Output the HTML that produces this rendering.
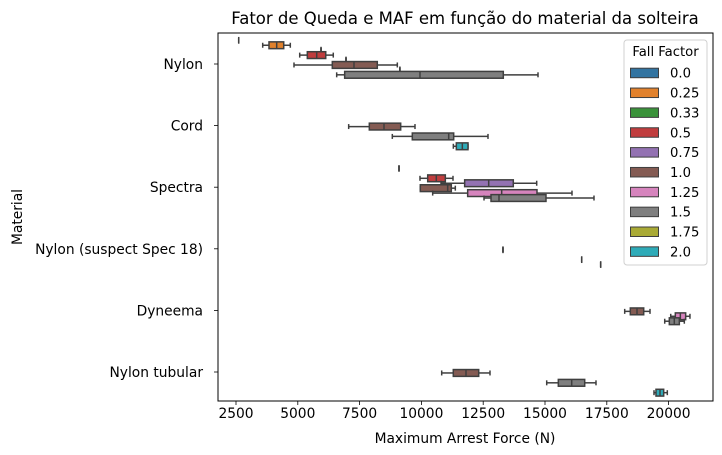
<!DOCTYPE html>
<html><head><meta charset="utf-8"><style>
body{margin:0;background:#fff;}
svg{font-family:"DejaVu Sans","Liberation Sans",sans-serif;display:block;}
</style></head><body>
<svg id="chart" width="722" height="455" viewBox="0 0 722 455">
<rect x="0" y="0" width="722" height="455" fill="#fff"/>
<text x="465" y="24" text-anchor="middle" font-size="16.5" fill="#000">Fator de Queda e MAF em função do material da solteira</text>
<text x="465" y="443" text-anchor="middle" font-size="13.8" fill="#000">Maximum Arrest Force (N)</text>
<text transform="translate(22,217) rotate(-90)" text-anchor="middle" font-size="13.8" fill="#000">Material</text>
<g id="marks"></g>
<g id="axes"></g>
<g id="legend"></g>
</svg>
<script>
const categories = ["Nylon", "Cord", "Spectra", "Nylon (suspect Spec 18)", "Dyneema", "Nylon tubular"];
const hueLevels = ["0.0","0.25","0.33","0.5","0.75","1.0","1.25","1.5","1.75","2.0"];
const hueColors = ["#3274a1","#e1812c","#3a923a","#c03d3e","#9372b2","#845b53","#d684bd","#7f7f7f","#a9aa35","#2eabb8"];
const xTicks = [2500,5000,7500,10000,12500,15000,17500,20000];
// each row: [categoryIndex, hueIndex, whiskerLow, q1, median, q3, whiskerHigh]
const boxStats = [
 [0,0,2610,2610,2610,2610,2610],
 [0,1,3580,3835,4146,4430,4697],
 [0,2,5940,5940,5940,5940,5940],
 [0,3,5077,5385,5765,6130,6435],
 [0,4,6950,6950,6950,6950,6950],
 [0,5,4846,6396,7273,8216,9026],
 [0,6,9130,9130,9130,9130,9130],
 [0,7,6573,6896,9943,13313,14717],
 [1,5,7058,7893,8487,9162,9741],
 [1,7,8823,9632,11104,11306,12694],
 [1,9,11292,11413,11656,11885,11885],
 [2,1,9094,9094,9094,9094,9094],
 [2,3,9943,10255,10603,10968,11278],
 [2,4,10793,11750,12722,13717,14664],
 [2,5,9956,9956,11063,11210,11372],
 [2,6,10456,11872,13248,14676,16092],
 [2,7,12533,12816,13139,15040,16982],
 [3,5,13300,13300,13300,13300,13300],
 [3,7,16485,16485,16485,16485,16485],
 [3,8,17253,17253,17253,17253,17253],
 [4,5,18224,18451,18722,18993,19248],
 [4,6,20086,20272,20475,20690,20864],
 [4,7,19843,20029,20231,20434,20636],
 [5,5,10821,11290,11804,12318,12775],
 [5,7,15069,15539,16080,16606,17063],
 [5,9,19409,19490,19652,19801,19948]
];

const NS="http://www.w3.org/2000/svg";
const L=218,R=713,T=33,B=401;
function xs(v){return 236+(v-2500)*0.02472;}
const catStep=61.6, slot=catStep*0.08;
function ycat(i){return 62.5+catStep*i;}
function yhue(c,h){return ycat(c)+(h-4.5)*slot;}
function mk(tag,attrs,parent){const e=document.createElementNS(NS,tag);for(const k in attrs)e.setAttribute(k,attrs[k]);parent.appendChild(e);return e;}

const marks=document.getElementById('marks');
const EC="#3f3f3f";
boxStats.forEach(r=>{
  const [c,h,wl,q1,md,q3,wh]=r;
  const y=yhue(c,h), hh=3.4;
  const g=mk('g',{},marks);
  
  
  mk('line',{x1:xs(wl),x2:xs(q1),y1:y,y2:y,stroke:EC,'stroke-width':1.5},g);
  mk('line',{x1:xs(q3),x2:xs(wh),y1:y,y2:y,stroke:EC,'stroke-width':1.5},g);
  mk('line',{x1:xs(wl),x2:xs(wl),y1:y-2.5,y2:y+2.5,stroke:EC,'stroke-width':1.5},g);
  mk('line',{x1:xs(wh),x2:xs(wh),y1:y-2.5,y2:y+2.5,stroke:EC,'stroke-width':1.5},g);
  if(q3>q1){mk('rect',{x:xs(q1),y:y-hh,width:xs(q3)-xs(q1),height:2*hh,fill:hueColors[h],stroke:EC,'stroke-width':1.5},g);}
  mk('line',{x1:xs(md),x2:xs(md),y1:y-hh,y2:y+hh,stroke:EC,'stroke-width':1.5},g);
});

const axes=document.getElementById('axes');
const frame=mk('rect',{x:L,y:T,width:R-L,height:B-T,fill:'none',stroke:'#000','stroke-width':1},axes);


xTicks.forEach(v=>{
  const x=xs(v);
  mk('line',{x1:x,x2:x,y1:B,y2:B+4,stroke:'#000','stroke-width':0.8},axes);
  const t=mk('text',{x:x,y:B+17,'text-anchor':'middle','font-size':13.8,fill:'#000'},axes);
  t.textContent=v;
  
  
});
categories.forEach((c,i)=>{
  const y=ycat(i)+1.5;
  mk('line',{x1:L-4,x2:L,y1:y,y2:y,stroke:'#000','stroke-width':0.8},axes);
  const t=mk('text',{x:L-15,y:y+5,'text-anchor':'end','font-size':13.8,fill:'#000'},axes);
  t.textContent=c;
  
  
});

const lg=document.getElementById('legend');


mk('rect',{x:624,y:40,width:83,height:225,rx:3,fill:'#fff','fill-opacity':0.85,stroke:'#d0d0d0','stroke-width':1},lg);
const lt=mk('text',{x:665.5,y:56,'text-anchor':'middle','font-size':13.2,fill:'#000'},lg);
lt.textContent='Fall Factor';


hueLevels.forEach((h,i)=>{
  const y=72.7+i*19.85;
  const g=mk('g',{},lg);
  
  
  mk('rect',{x:630.5,y:y-4.5,width:28,height:9.5,fill:hueColors[i],stroke:EC,'stroke-width':1},g);
  const t=mk('text',{x:670,y:y+5,'font-size':13.2,fill:'#000'},g);
  t.textContent=h;
});
</script>
</body></html>
